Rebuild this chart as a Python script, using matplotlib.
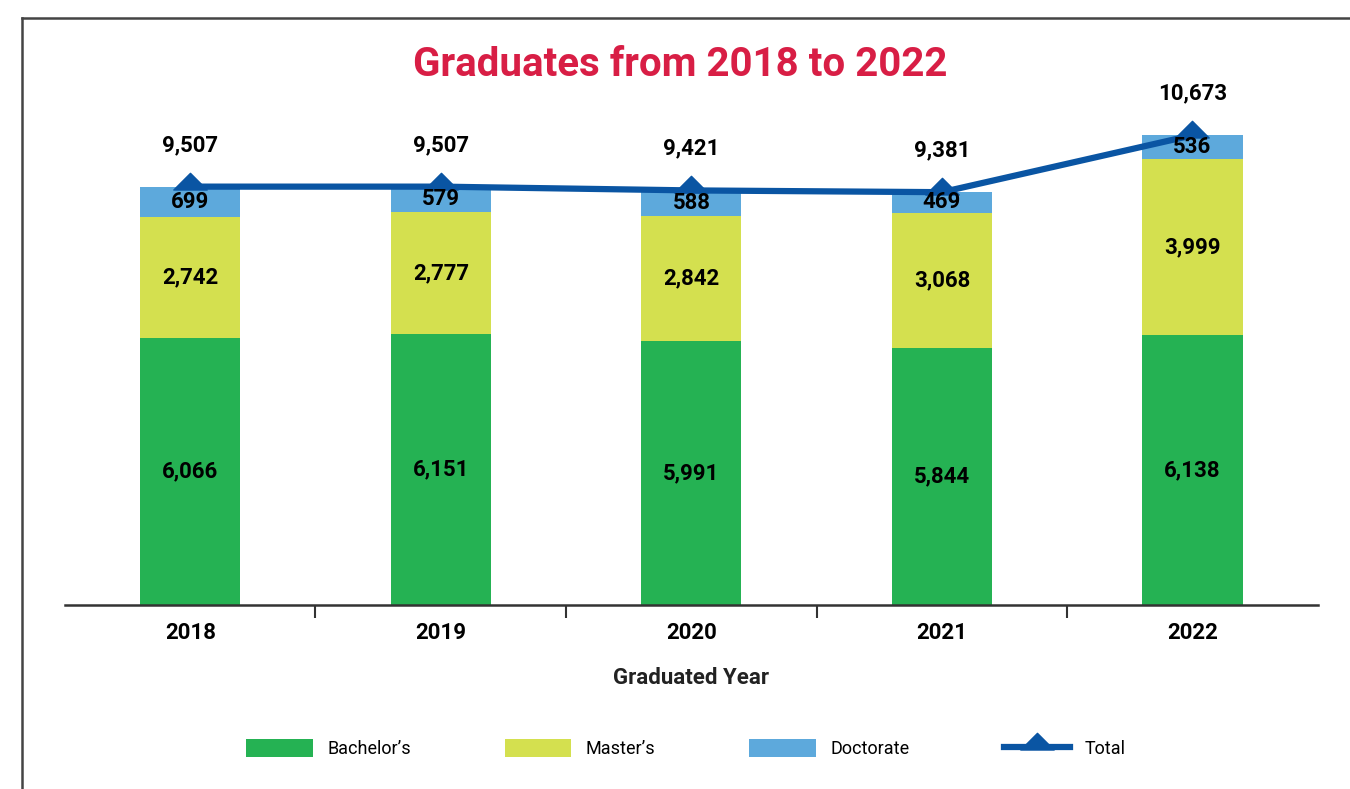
import numpy as np
import matplotlib
matplotlib.use("Agg")
from matplotlib import pyplot as plt
from matplotlib.lines import Line2D
from matplotlib.path import Path

# Data
years = ["2018", "2019", "2020", "2021", "2022"]
bachelors = [6066, 6151, 5991, 5844, 6138]
masters = [2742, 2777, 2842, 3068, 3999]
doctorate = [699, 579, 588, 469, 536]
totals = [b + m + d for b, m, d in zip(bachelors, masters, doctorate)]

green = "#25B253"
yellow = "#D4E04F"
blue = "#5DA9DC"
navy = "#0A55A3"
red = "#D81E45"

plt.rcParams["font.family"] = ["Roboto", "DejaVu Sans"]

fig = plt.figure(figsize=(13.5, 7.89), dpi=100)
ax = fig.add_axes([0.0481, 0.2332, 0.928, 0.6654])

x = np.arange(len(years))
w = 0.4
bot2 = np.array(bachelors)
bot3 = bot2 + np.array(masters)

ax.bar(x, bachelors, w, color=green, label="Bachelor’s", zorder=2)
ax.bar(x, masters, w, bottom=bot2, color=yellow, label="Master’s", zorder=2)
ax.bar(x, doctorate, w, bottom=bot3, color=blue, label="Doctorate", zorder=2)

# flat triangle marker sitting on the line
tri = Path([(-1, -0.15), (0, 0.85), (1, -0.15), (-1, -0.15)],
           [Path.MOVETO, Path.LINETO, Path.LINETO, Path.CLOSEPOLY])
ax.plot(x, totals, color=navy, linewidth=4.5, marker=tri, markersize=24,
        label="Total", zorder=4, solid_joinstyle="round")

# segment labels
for i in range(len(years)):
    ax.text(x[i], bachelors[i] / 2, f"{bachelors[i]:,}", ha="center", va="center",
            fontsize=16, fontweight="bold", zorder=5)
    ax.text(x[i], bot2[i] + masters[i] / 2, f"{masters[i]:,}", ha="center", va="center",
            fontsize=16, fontweight="bold", zorder=5)
    ax.text(x[i], bot3[i] + doctorate[i] / 2, f"{doctorate[i]:,}", ha="center", va="center",
            fontsize=16, fontweight="bold", zorder=5)
    ax.annotate(f"{totals[i]:,}", (x[i], totals[i]), xytext=(0, 30),
                textcoords="offset points", ha="center", va="center",
                fontsize=16, fontweight="bold")

ax.set_xlim(-0.5, 4.5)
ax.set_ylim(0, 11930)
ax.set_yticks([])
for s in ["top", "right", "left"]:
    ax.spines[s].set_visible(False)
ax.spines["bottom"].set_color("#333333")
ax.spines["bottom"].set_linewidth(1.8)

ax.set_xticks(x)
ax.set_xticklabels(years, fontsize=16, fontweight="bold")
ax.tick_params(axis="x", which="major", length=0, pad=12)
ax.set_xticks(x[:-1] + 0.5, minor=True)
ax.tick_params(axis="x", which="minor", length=9, width=1.5, color="#333333", direction="out")
ax.set_xlabel("Graduated Year", fontsize=16, fontweight="bold", color="#222222", labelpad=17)

fig.text(0.504, 0.918, "Graduates from 2018 to 2022", ha="center", va="center",
         fontsize=29, fontweight="bold", color=red)

handles, labels = ax.get_legend_handles_labels()
order = [1, 2, 3, 0]
fig.legend([handles[k] for k in order], [labels[k] for k in order],
           loc="center", bbox_to_anchor=(0.508, 0.051), ncol=4, frameon=False,
           fontsize=13, handlelength=3.7, handleheight=1.1, columnspacing=5.2,
           handletextpad=0.8)

# outer frame
fig.add_artist(Line2D([0.0163, 0.0163], [0.0, 0.977], color="#444444", linewidth=1.8))
fig.add_artist(Line2D([0.0163, 1.0], [0.977, 0.977], color="#444444", linewidth=1.8))

fig.savefig("out.png", dpi=100)
